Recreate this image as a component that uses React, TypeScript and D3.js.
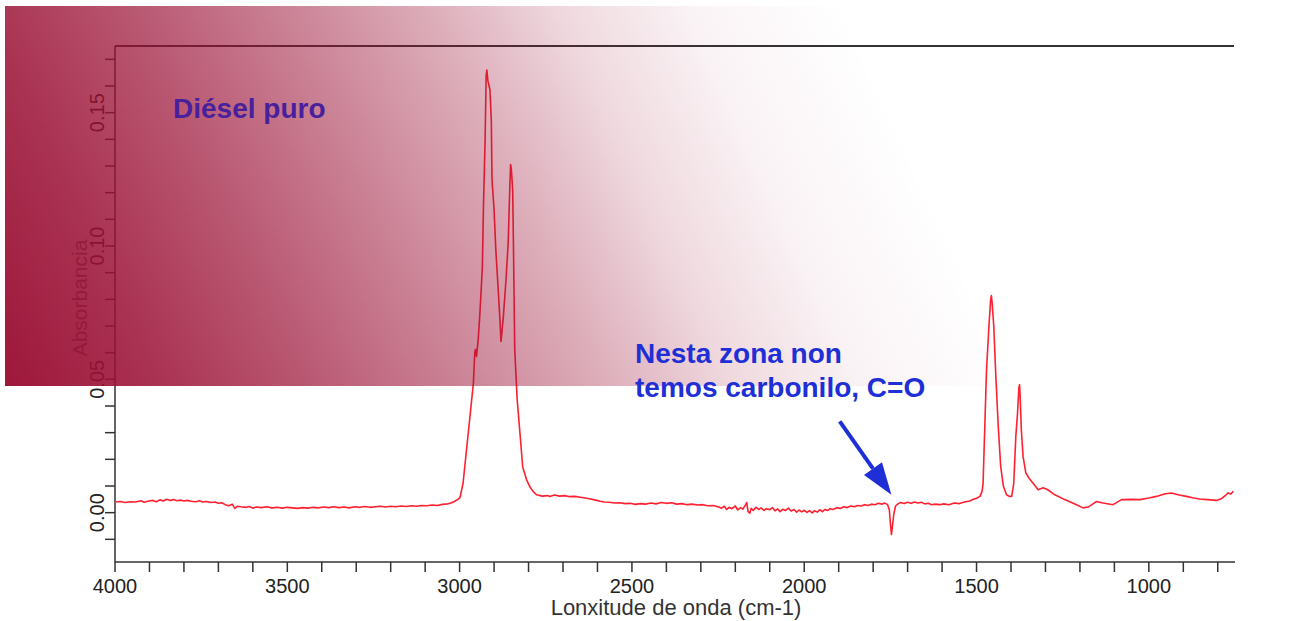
import React, { useRef, useEffect } from "react";
import { select, scaleLinear, line, curveLinear, range } from "d3";

const W = 1304;
const H = 621;

// FTIR spectrum, [wavenumber cm-1, absorbance]
const spectrum: [number, number][] = [
  [4000, 0.004], [3985, 0.0042], [3970, 0.0038], [3955, 0.0041], [3940, 0.004], [3925, 0.0045],
  [3915, 0.0039], [3905, 0.0043], [3890, 0.0046], [3880, 0.0041], [3870, 0.0048], [3860, 0.0044],
  [3850, 0.005], [3840, 0.0046], [3830, 0.0049], [3820, 0.0045], [3810, 0.0047], [3800, 0.0044],
  [3790, 0.0046], [3780, 0.0043], [3765, 0.0041], [3755, 0.0045], [3745, 0.004], [3735, 0.0042],
  [3720, 0.0038], [3710, 0.004], [3700, 0.0035], [3690, 0.0037], [3680, 0.003], [3670, 0.0026],
  [3660, 0.0032], [3652, 0.0016], [3645, 0.0024], [3635, 0.0022], [3620, 0.002], [3610, 0.0023],
  [3600, 0.0017], [3590, 0.0021], [3575, 0.0019], [3560, 0.0022], [3545, 0.0018], [3530, 0.002],
  [3515, 0.0017], [3500, 0.002], [3485, 0.0018], [3470, 0.0016], [3455, 0.0019], [3440, 0.0017],
  [3425, 0.002], [3410, 0.0018], [3395, 0.0021], [3380, 0.0019], [3365, 0.0022], [3350, 0.0019],
  [3335, 0.0021], [3320, 0.0018], [3305, 0.0022], [3290, 0.002], [3275, 0.0023], [3260, 0.002],
  [3245, 0.0022], [3230, 0.0024], [3215, 0.0021], [3200, 0.0024], [3185, 0.0022], [3170, 0.0025],
  [3155, 0.0023], [3140, 0.0026], [3125, 0.0024], [3110, 0.0027], [3095, 0.0026], [3080, 0.0029],
  [3065, 0.0027], [3050, 0.0031], [3035, 0.0033], [3025, 0.0036], [3015, 0.0042], [3005, 0.005],
  [2999, 0.0056], [2990, 0.011], [2980, 0.0236], [2970, 0.036], [2960, 0.0487], [2956, 0.06],
  [2954, 0.0612], [2951, 0.0586], [2946, 0.065], [2941, 0.075], [2934, 0.092], [2931, 0.1136],
  [2926, 0.14], [2923, 0.164], [2921, 0.166], [2918, 0.162], [2912, 0.1586], [2908, 0.147],
  [2906, 0.125], [2900, 0.1136], [2895, 0.0986], [2888, 0.0836], [2883, 0.0724], [2880, 0.0642],
  [2877, 0.068], [2873, 0.0736], [2866, 0.0862], [2859, 0.1012], [2854, 0.1237], [2852, 0.1305],
  [2850, 0.129], [2846, 0.121], [2844, 0.1024], [2840, 0.0611], [2833, 0.0424], [2825, 0.03],
  [2817, 0.0172], [2806, 0.0124], [2796, 0.0097], [2787, 0.008], [2777, 0.0067], [2760, 0.0062],
  [2745, 0.0064], [2738, 0.0061], [2725, 0.0066], [2710, 0.0062], [2695, 0.0064], [2680, 0.006],
  [2665, 0.0061], [2650, 0.0058], [2635, 0.0055], [2620, 0.0051], [2605, 0.0047], [2593, 0.0043],
  [2580, 0.004], [2565, 0.0039], [2550, 0.0036], [2535, 0.0037], [2520, 0.0034], [2505, 0.0035],
  [2490, 0.0031], [2475, 0.0034], [2460, 0.0032], [2445, 0.0036], [2430, 0.0033], [2415, 0.0038],
  [2400, 0.0035], [2385, 0.0037], [2370, 0.0032], [2355, 0.0034], [2340, 0.003], [2325, 0.0032],
  [2310, 0.0029], [2295, 0.003], [2280, 0.0026], [2265, 0.0027], [2250, 0.0022], [2240, 0.0017],
  [2232, 0.0024], [2225, 0.0012], [2218, 0.002], [2210, 0.0015], [2200, 0.0025], [2193, 0.001],
  [2185, 0.0019], [2178, 0.0013], [2170, 0.003], [2167, 0.0038], [2163, 0.0005], [2158, -0.0002],
  [2154, 0.0016], [2148, 0.0008], [2140, 0.002], [2132, 0.0012], [2125, 0.0018], [2117, 0.0008],
  [2110, 0.0015], [2100, 0.0011], [2092, 0.0019], [2085, 0.0007], [2077, 0.0014], [2070, 0.0004],
  [2062, 0.0013], [2055, 0.0008], [2046, 0.0017], [2038, 0.0006], [2030, 0.0012], [2022, 0.0002],
  [2015, 0.001], [2007, 0.0003], [2000, 0.0009], [1992, 0.0001], [1985, 0.0008], [1977, -0.0001],
  [1970, 0.0007], [1962, 0.0002], [1955, 0.0011], [1947, 0.0004], [1940, 0.0012], [1932, 0.0008],
  [1925, 0.0015], [1917, 0.0012], [1905, 0.0018], [1895, 0.0016], [1885, 0.0022], [1875, 0.0019],
  [1865, 0.0025], [1855, 0.0022], [1845, 0.0027], [1835, 0.0025], [1825, 0.003], [1815, 0.0027],
  [1805, 0.0032], [1795, 0.003], [1785, 0.0035], [1775, 0.0032], [1766, 0.0036], [1758, 0.003],
  [1753, 0.001], [1750, -0.004], [1747, -0.0082], [1744, -0.005], [1740, -0.0005], [1735, 0.0025],
  [1728, 0.0033], [1720, 0.0038], [1710, 0.0034], [1700, 0.0039], [1690, 0.0035], [1680, 0.004],
  [1670, 0.0036], [1660, 0.0039], [1650, 0.0033], [1640, 0.0035], [1630, 0.003], [1620, 0.0032],
  [1607, 0.003], [1595, 0.0033], [1580, 0.003], [1565, 0.0036], [1550, 0.0034], [1535, 0.004],
  [1520, 0.0044], [1511, 0.0049], [1500, 0.0054], [1490, 0.0061], [1484, 0.008], [1481, 0.011],
  [1476, 0.0324], [1471, 0.0536], [1464, 0.07], [1459, 0.08], [1457, 0.0814], [1455, 0.079],
  [1450, 0.07], [1444, 0.0511], [1437, 0.0324], [1430, 0.0174], [1422, 0.0099], [1413, 0.0067],
  [1405, 0.0061], [1398, 0.0061], [1392, 0.011], [1386, 0.0286], [1381, 0.0374], [1377, 0.047],
  [1375, 0.048], [1373, 0.042], [1370, 0.0311], [1365, 0.0211], [1357, 0.0149], [1348, 0.013],
  [1336, 0.011], [1321, 0.0086], [1307, 0.0093], [1293, 0.0086], [1273, 0.0067], [1244, 0.0049],
  [1210, 0.003], [1191, 0.0018], [1176, 0.0021], [1160, 0.0035], [1152, 0.0042], [1133, 0.0036],
  [1104, 0.003], [1079, 0.0049], [1050, 0.005], [1026, 0.0049], [1000, 0.0055], [978, 0.0061],
  [955, 0.007], [935, 0.0074], [912, 0.0066], [891, 0.0061], [870, 0.0055], [853, 0.0051],
  [830, 0.0049], [804, 0.0046], [790, 0.0052], [775, 0.0068], [770, 0.0074], [762, 0.007], [755, 0.008],
];

const xLabelTicks = [4000, 3500, 3000, 2500, 2000, 1500, 1000];
const xMinorTicks = range(4000, 750, -100);
const yLabelTicks = [0, 0.05, 0.1, 0.15];
const yMinorTicks = range(-1, 18).map((d) => d / 100);

const xTitle = "Lonxitude de onda (cm-1)";
const yTitle = "Absorbancia";
const sampleLabel = "Diésel puro";
const noteLines = ["Nesta zona non", "temos carbonilo, C=O"];

export default function App() {
  const svgRef = useRef<SVGSVGElement>(null);

  useEffect(() => {
    const svg = select(svgRef.current);
    svg.selectAll("*").remove();

    const xScale = scaleLinear().domain([4000, 750]).range([115, 1235]);
    const yScale = scaleLinear().domain([-0.0185, 0.175]).range([562, 46]);
    const left = xScale(4000);
    const right = xScale(750);
    const top = yScale(0.175);
    const bottom = yScale(-0.0185);

    svg.append("rect").attr("width", W).attr("height", H).attr("fill", "#fff");

    // frame
    const axisCol = "#333";
    svg.append("line").attr("x1", left).attr("x2", right - 1).attr("y1", top).attr("y2", top)
      .attr("stroke", axisCol).attr("stroke-width", 2);
    svg.append("line").attr("x1", left).attr("x2", left).attr("y1", top).attr("y2", bottom)
      .attr("stroke", axisCol).attr("stroke-width", 1.5);
    svg.append("line").attr("x1", left).attr("x2", right).attr("y1", bottom).attr("y2", bottom)
      .attr("stroke", axisCol).attr("stroke-width", 1.5);

    // x ticks
    svg.append("g").selectAll("line").data(xMinorTicks).join("line")
      .attr("x1", (d) => xScale(d)).attr("x2", (d) => xScale(d))
      .attr("y1", bottom).attr("y2", bottom + 10)
      .attr("stroke", axisCol).attr("stroke-width", 1.5);
    svg.append("g").selectAll("text").data(xLabelTicks).join("text")
      .attr("x", (d) => xScale(d)).attr("y", 593)
      .attr("text-anchor", "middle")
      .attr("font-family", "'Liberation Sans', Arial, sans-serif")
      .attr("font-size", 20).attr("fill", "#222")
      .text((d) => d);

    // y ticks
    svg.append("g").selectAll("line").data(yMinorTicks).join("line")
      .attr("x1", left - 10).attr("x2", left)
      .attr("y1", (d) => yScale(d)).attr("y2", (d) => yScale(d))
      .attr("stroke", axisCol).attr("stroke-width", 1.5);
    svg.append("g").selectAll("text").data(yLabelTicks).join("text")
      .attr("transform", (d) => `translate(104,${yScale(d)}) rotate(-90)`)
      .attr("text-anchor", "middle")
      .attr("font-family", "'Liberation Sans', Arial, sans-serif")
      .attr("font-size", 20).attr("fill", "#222")
      .text((d) => d.toFixed(2));

    // axis titles
    svg.append("text").attr("x", 676).attr("y", 615).attr("text-anchor", "middle")
      .attr("font-family", "'Liberation Sans', Arial, sans-serif")
      .attr("font-size", 22).attr("fill", "#333").text(xTitle);
    svg.append("text").attr("transform", "translate(87,298) rotate(-90)")
      .attr("text-anchor", "middle")
      .attr("font-family", "'Liberation Sans', Arial, sans-serif")
      .attr("font-size", 21).attr("fill", "#666").text(yTitle);

    // spectrum
    const myLine = line<[number, number]>()
      .x((d) => xScale(d[0]))
      .y((d) => yScale(d[1]))
      .curve(curveLinear);
    svg.append("path").datum(spectrum).attr("d", myLine)
      .attr("fill", "none").attr("stroke", "#ff2030").attr("stroke-width", 1.6)
      .attr("stroke-linejoin", "round");

    // crimson slide overlay
    const defs = svg.append("defs");
    const grad = defs.append("linearGradient").attr("id", "crimson")
      .attr("gradientUnits", "userSpaceOnUse")
      .attr("x1", 5).attr("y1", 386).attr("x2", 840).attr("y2", 0);
    [
      [0, 0.97], [0.15, 0.86], [0.3, 0.7], [0.45, 0.52], [0.6, 0.33], [0.72, 0.16], [0.85, 0.05], [1, 0],
    ].forEach(([o, a]) => {
      grad.append("stop").attr("offset", o).attr("stop-color", "#9b1035").attr("stop-opacity", a);
    });
    svg.append("rect").attr("x", 5).attr("y", 6).attr("width", W - 5).attr("height", 380)
      .attr("fill", "url(#crimson)");

    // labels
    svg.append("text").attr("x", 173).attr("y", 118)
      .attr("font-family", "'Liberation Sans', Arial, sans-serif")
      .attr("font-weight", "bold").attr("font-size", 28).attr("fill", "#48209e")
      .text(sampleLabel);

    svg.append("g").selectAll("text").data(noteLines).join("text")
      .attr("x", 635).attr("y", (d, i) => 363 + i * 34)
      .attr("font-family", "'Liberation Sans', Arial, sans-serif")
      .attr("font-weight", "bold").attr("font-size", 28).attr("fill", "#1f2fd6")
      .text((d) => d);

    // arrow to the carbonyl zone
    const tip: [number, number] = [xScale(1747), yScale(0.0067)];
    const tail: [number, number] = [xScale(1897), yScale(0.0342)];
    const dx = tip[0] - tail[0];
    const dy = tip[1] - tail[1];
    const len = Math.hypot(dx, dy);
    const ux = dx / len;
    const uy = dy / len;
    const headL = 32;
    const headW = 11;
    const bx = tip[0] - ux * headL;
    const by = tip[1] - uy * headL;
    svg.append("line").attr("x1", tail[0]).attr("y1", tail[1]).attr("x2", bx).attr("y2", by)
      .attr("stroke", "#1f2fd6").attr("stroke-width", 4);
    svg.append("path")
      .attr("d", `M${tip[0]},${tip[1]}L${bx - uy * headW},${by + ux * headW}L${bx + uy * headW},${by - ux * headW}Z`)
      .attr("fill", "#1f2fd6");
  }, []);

  return (
    <svg
      ref={svgRef}
      width={W}
      height={H}
      style={{ position: "absolute", left: 0, top: 0, display: "block" }}
    />
  );
}
